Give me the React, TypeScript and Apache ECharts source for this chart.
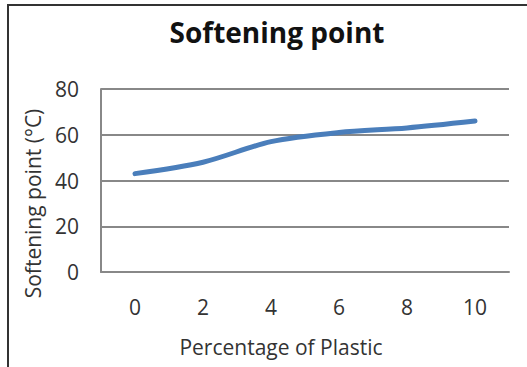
import React, { useEffect, useRef } from "react";
import * as echarts from "echarts";

const categories = ["0", "2", "4", "6", "8", "10"];
const softeningValues = [43, 48, 57, 61, 63, 66];
const yMin = 0;
const yMax = 80;
const yInterval = 20;

const FONT = "'Open Sans', 'Liberation Sans', sans-serif";

export default function App() {
  const ref = useRef<HTMLDivElement>(null);
  useEffect(() => {
    document.body.style.margin = "0";
    const chart = echarts.init(ref.current!, null, { renderer: "svg" });
    chart.setOption({
      animation: false,
      backgroundColor: "#ffffff",
      title: {
        text: "Softening point",
        left: 272,
        textAlign: "center",
        top: 13,
        textStyle: { fontFamily: FONT, fontSize: 28, fontWeight: "bold", color: "#111" },
      },
      graphic: [
        { type: "line", shape: { x1: 7, y1: 5, x2: 527, y2: 5 }, style: { stroke: "#333", lineWidth: 2 } },
        { type: "line", shape: { x1: 8, y1: 5, x2: 8, y2: 367 }, style: { stroke: "#333", lineWidth: 2 } },
      ],
      grid: { left: 101, right: 18, top: 89, bottom: 95 },
      xAxis: {
        type: "category",
        data: categories,
        boundaryGap: true,
        axisLine: { show: true, lineStyle: { color: "#888", width: 2 } },
        axisTick: { show: false },
        axisLabel: { fontFamily: FONT, fontSize: 21, color: "#333", margin: 24 },
        name: "Percentage of Plastic",
        nameLocation: "middle",
        nameGap: 64,
        nameTextStyle: { fontFamily: FONT, fontSize: 21, color: "#333", padding: [0, 48, 0, 0] },
      },
      yAxis: {
        type: "value",
        min: yMin,
        max: yMax,
        interval: yInterval,
        axisLine: { show: true, lineStyle: { color: "#888", width: 2 } },
        axisTick: { show: false },
        splitLine: { show: true, lineStyle: { color: "#888", width: 2 } },
        axisLabel: { fontFamily: FONT, fontSize: 21, color: "#333", margin: 22 },
        name: "Softening point (°C)",
        nameLocation: "middle",
        nameGap: 58,
        nameRotate: 90,
        nameTextStyle: { fontFamily: FONT, fontSize: 21, color: "#333", padding: [0, 46, 0, 0] },
      },
      series: [
        {
          type: "line",
          data: softeningValues,
          smooth: 0.3,
          symbol: "none",
          lineStyle: { color: "#4a7ebb", width: 5, cap: "round" },
        },
      ],
    });
    return () => chart.dispose();
  }, []);
  return <div ref={ref} style={{ width: 527, height: 367 }} />;
}
